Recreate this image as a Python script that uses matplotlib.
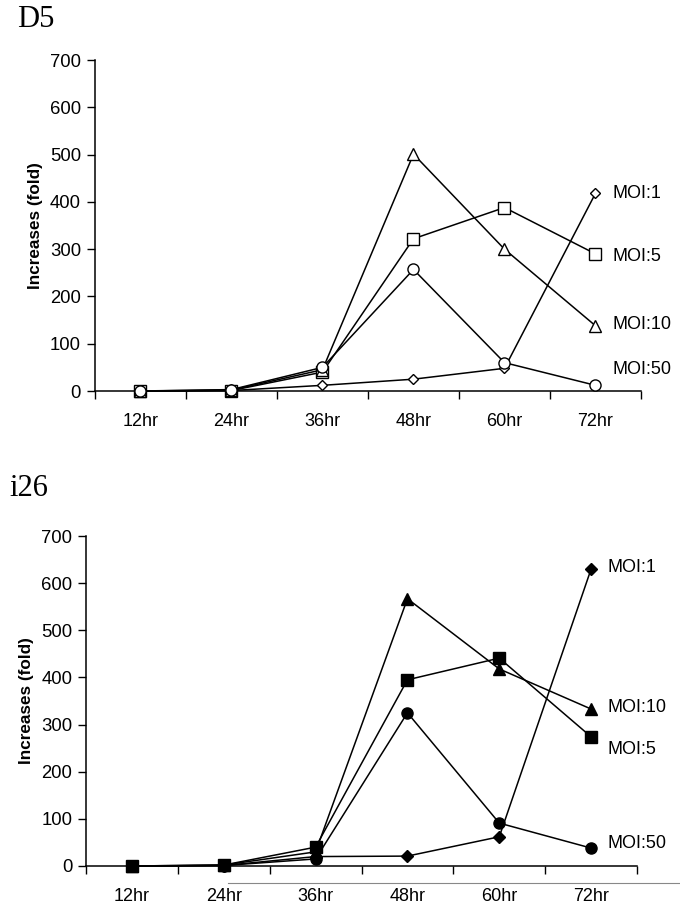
import matplotlib
matplotlib.use("Agg")
import matplotlib.pyplot as plt
from matplotlib.lines import Line2D

plt.rcParams['font.family'] = ['Liberation Sans', 'DejaVu Sans']

times = ["12hr", "24hr", "36hr", "48hr", "60hr", "72hr"]

# D5 (open markers)
d5_moi1 = [0, 1, 12, 25, 48, 418]
d5_moi5 = [0, 1, 40, 322, 388, 290]
d5_moi10 = [0, 2, 45, 501, 300, 138]
d5_moi50 = [0, 3, 50, 257, 60, 12]

# i26 (filled markers)
i26_moi1 = [0, 1, 20, 21, 62, 630]
i26_moi5 = [0, 2, 40, 395, 441, 274]
i26_moi10 = [0, 2, 30, 567, 418, 333]
i26_moi50 = [0, 1, 15, 325, 91, 38]

fig = plt.figure(figsize=(6.8, 9.11), dpi=100)
ax1 = fig.add_axes([0.1397, 0.5708, 0.8029, 0.3633])
ax2 = fig.add_axes([0.1265, 0.0494, 0.8103, 0.3622])


def style_axes(ax):
    x = range(len(times))
    ax.set_xlim(-0.5, len(times) - 0.5)
    ax.set_ylim(0, 700)
    ax.set_yticks(range(0, 701, 100))
    ax.set_xticks([i - 0.5 for i in range(len(times) + 1)])
    ax.set_xticklabels([])
    ax.set_xticks(list(x), minor=True)
    ax.set_xticklabels(times, minor=True, fontsize=13)
    ax.tick_params(axis='x', which='minor', length=0, pad=16)
    ax.tick_params(axis='x', which='major', length=6, width=1, direction='out')
    ax.tick_params(axis='y', length=6, width=1, direction='out', labelsize=13.3, pad=4)
    ax.spines['top'].set_visible(False)
    ax.spines['right'].set_visible(False)
    for s in ['left', 'bottom']:
        ax.spines[s].set_linewidth(1.1)
    ax.set_ylabel("Increases (fold)", fontsize=12.3, fontweight='bold', labelpad=5)


def draw(ax, series, labels, offsets, fill):
    x = list(range(len(times)))
    for (vals, mk, ms), lab, off in zip(series, labels, offsets):
        ax.plot(x, vals, color='black', lw=1.1, marker=mk, ms=ms,
                mfc=('black' if fill else 'white'), mec='black', mew=1.0,
                clip_on=False, zorder=3)
        ax.annotate(lab, (x[-1], vals[-1]), xytext=off, textcoords='offset pixels',
                    fontsize=13, va='center', ha='left', annotation_clip=False)


style_axes(ax1)
draw(ax1,
     [(d5_moi1, 'D', 5), (d5_moi5, 's', 8), (d5_moi10, '^', 8), (d5_moi50, 'o', 8)],
     ["MOI:1", "MOI:5", "MOI:10", "MOI:50"],
     [(17, 0), (17, -3), (17, 1), (17, 16)], fill=False)

style_axes(ax2)
draw(ax2,
     [(i26_moi1, 'D', 6), (i26_moi5, 's', 8), (i26_moi10, '^', 8), (i26_moi50, 'o', 8)],
     ["MOI:1", "MOI:5", "MOI:10", "MOI:50"],
     [(16, 2), (16, -13), (16, 2), (16, 5)], fill=True)

fig.text(0.025, 0.979, "D5", fontsize=22, family=['Liberation Serif'], va='center', ha='left')
fig.text(0.014, 0.464, "i26", fontsize=22, family=['Liberation Serif'], va='center', ha='left')

# faint rule along the bottom edge of the scan
fig.add_artist(Line2D([228 / 680, 1.0], [1 - 883 / 911, 1 - 883 / 911],
                      color='#888888', lw=0.8, transform=fig.transFigure))

fig.savefig("out.png", dpi=100)
